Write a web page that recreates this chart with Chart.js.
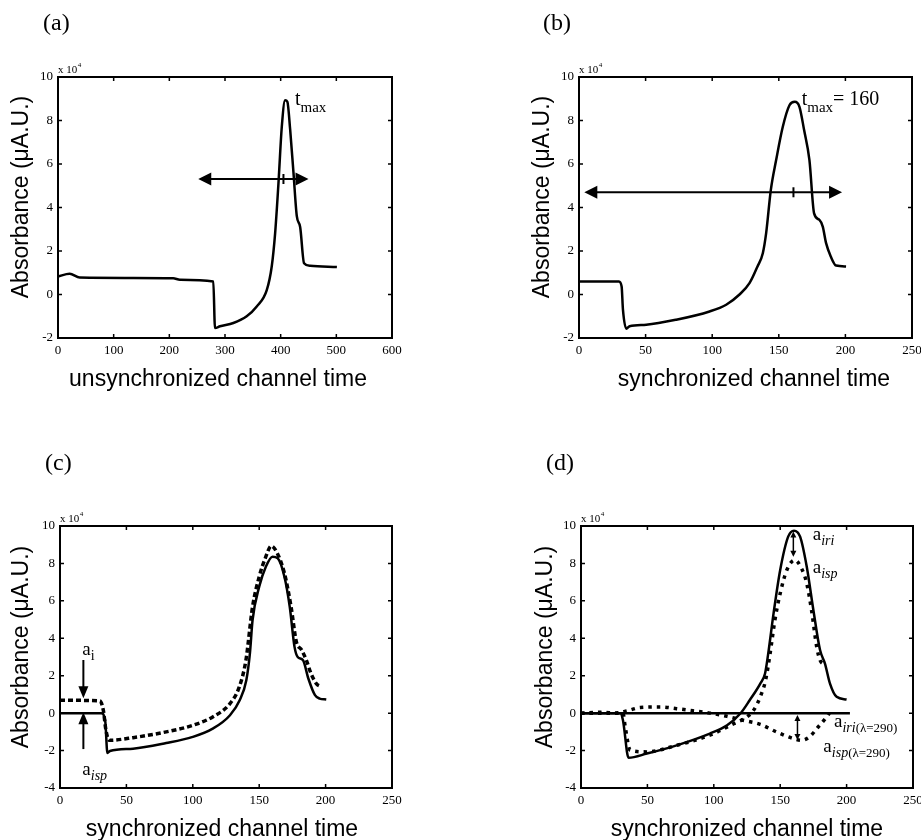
<!DOCTYPE html>
<html>
<head>
<meta charset="utf-8">
<script src="https://cdn.jsdelivr.net/npm/chart.js@4.4.1/dist/chart.umd.min.js"></script>
<style>
  body { margin: 0; background: #fff; overflow: hidden; }
  #wrap { position: relative; width: 921px; height: 840px; overflow: hidden; background: #fff; }
  #wrap canvas { position: absolute; }
</style>
</head>
<body>
<div id="wrap">
  <canvas id="chartA" width="480" height="440" style="left:0;top:0"></canvas>
  <canvas id="chartB" width="480" height="440" style="left:460px;top:0"></canvas>
  <canvas id="chartC" width="480" height="440" style="left:0;top:420px"></canvas>
  <canvas id="chartD" width="480" height="440" style="left:460px;top:420px"></canvas>
</div>
<script>
const SERIF = '"Liberation Serif", "Times New Roman", serif';
const SANS = '"Liberation Sans", Arial, sans-serif';

// --- (a) unsynchronized ---
const xTicksA = [0, 100, 200, 300, 400, 500, 600];
const yTicksA = [-2, 0, 2, 4, 6, 8, 10];
const timeA = [0, 21, 39, 207, 219, 279, 282, 291, 315, 339, 357, 375, 384, 390, 396, 402, 408, 412, 417, 423, 429, 435, 442, 453, 501];
const absA = [0.83, 0.95, 0.78, 0.75, 0.68, 0.6, -1.54, -1.46, -1.31, -1.0, -0.55, 0.2, 1.3, 2.8, 5.1, 7.7, 8.93, 8.86, 7.6, 5.6, 3.6, 3.1, 1.44, 1.32, 1.26];

// --- (b) synchronized ---
const xTicksSync = [0, 50, 100, 150, 200, 250];
const yTicksB = [-2, 0, 2, 4, 6, 8, 10];
const timeB = [0, 30, 32, 33, 35.5, 38, 50.5, 73, 98, 110.5, 120.5, 128, 134, 138, 140.5, 144, 148, 153, 158, 162, 165.5, 169, 173, 176.5, 180.5, 183, 185.5, 189, 193, 200.5];
const absB = [0.6, 0.6, 0.37, -0.7, -1.57, -1.46, -1.39, -1.16, -0.78, -0.47, 0.0, 0.52, 1.29, 1.9, 2.82, 4.8, 6.18, 7.71, 8.7, 8.86, 8.63, 7.56, 6.18, 3.73, 3.43, 3.12, 2.36, 1.75, 1.33, 1.29];

// --- (c) ---
const yTicksCD = [-4, -2, 0, 2, 4, 6, 8, 10];
const timeC = [0, 31, 34, 35.7, 37.6, 55, 80, 100, 115, 128, 135.3, 140.3, 143, 145, 150, 155, 160, 164, 169, 173, 176.6, 179, 183, 187, 192, 195.5, 200.5];
const solidC = [0, 0, -0.38, -2.13, -2.02, -1.9, -1.6, -1.27, -0.83, -0.11, 0.69, 1.76, 3.19, 4.97, 6.75, 7.82, 8.36, 8.27, 7.29, 5.68, 3.54, 3.0, 2.83, 1.85, 0.96, 0.78, 0.73];
const timeC2 = [0, 30, 32.6, 34.6, 37, 55, 80, 100, 115, 128, 135, 140, 145, 150, 155, 159, 163, 169, 174, 178, 182, 185.5, 189, 193, 197];
const dottedC = [0.69, 0.65, 0.16, -0.91, -1.45, -1.31, -1.0, -0.65, -0.2, 0.51, 1.4, 2.83, 5.68, 7.29, 8.36, 8.93, 8.63, 7.47, 5.68, 3.81, 3.37, 2.83, 2.12, 1.58, 1.4];

// --- (d) ---
const timeD = [0, 29.6, 31.6, 35.8, 49.6, 72, 97, 110, 120, 127, 135, 138.6, 141, 145, 150, 156, 160.4, 165, 170, 175, 180, 183.7, 187.5, 192.5, 200];
const iriD = [0, 0, -0.38, -2.38, -2.16, -1.72, -1.09, -0.65, -0.02, 0.69, 1.58, 2.12, 3.19, 5.33, 7.65, 9.43, 9.75, 9.43, 7.82, 5.5, 3.37, 2.65, 1.58, 0.87, 0.73];
const timeD2 = [0, 31.6, 33.3, 37, 49.6, 72, 97, 115, 125, 130, 135, 139, 142.4, 146, 150, 155, 161, 166, 170, 173.6, 177.5, 180, 183];
const ispD = [0, 0, -0.74, -1.98, -2.07, -1.72, -1.18, -0.56, -0.2, 0.16, 0.87, 1.76, 3.19, 4.97, 6.4, 7.65, 8.18, 7.74, 6.93, 5.5, 3.54, 2.83, 2.6];
const time290 = [0, 202.5];
const iri290 = [0, 0];
const time290b = [0, 17, 25, 34.6, 44.6, 60, 72, 85, 97, 110, 122, 135, 147, 160, 166, 172, 178.6, 185, 187];
const isp290 = [0, 0.05, 0, 0.12, 0.3, 0.33, 0.24, 0.12, 0, -0.17, -0.38, -0.6, -1.0, -1.36, -1.45, -1.27, -0.74, -0.2, 0];

// 주석 (데이터 단위)
const arrowsA = [{ x1: 252, y1: 5.31, x2: 450, y2: 5.31, both: true, mark: 405 }];
const arrowsB = [{ x1: 4, y1: 4.7, x2: 197.5, y2: 4.7, both: true, mark: 161 }];
const arrowsC = [
    { x1: 17.6, y1: 2.84, x2: 17.6, y2: 0.8 },
    { x1: 17.6, y1: -1.92, x2: 17.6, y2: 0.05 }
];
const arrowsD = [
    { x1: 159.9, y1: 9.7, x2: 159.9, y2: 8.36, both: true },
    { x1: 163, y1: -0.1, x2: 163, y2: -1.44, both: true }
];

const labelsA = [{ x: 425.7, y: 8.71, parts: [['t', 20], ['max', 15, 6.5]] }];
const labelsB = [{ x: 167.2, y: 8.71, parts: [['t', 20], ['max', 15, 6.5], ['= 160', 20]] }];
const labelsC = [
    { x: 16.8, y: 3.1, parts: [['a', 19], ['i', 14, 5]] },
    { x: 16.8, y: -3.31, parts: [['a', 19], ['isp', 14, 5, true]] }
];
const labelsD = [
    { x: 174.5, y: 9.25, parts: [['a', 19], ['iri', 14, 5, true]] },
    { x: 174.5, y: 7.49, parts: [['a', 19], ['isp', 14, 5, true]] },
    { x: 190.5, y: -0.76, parts: [['a', 19], ['iri', 14, 5, true], ['(λ=290)', 13, 5]] },
    { x: 182.5, y: -2.06, parts: [['a', 19], ['isp', 14, 5, true], ['(λ=290)', 13, 5]] }
];

function drawRich(ctx, x, y, parts) {
    let cx = x;
    parts.forEach(([text, size, dy, italic]) => {
        ctx.font = (italic ? 'italic ' : '') + size + 'px ' + SERIF;
        ctx.fillText(text, cx, y + (dy || 0));
        cx += ctx.measureText(text).width;
    });
}

function drawArrow(ctx, x1, y1, x2, y2, both, st) {
    const a = Math.atan2(y2 - y1, x2 - x1);
    const head = (tx, ty, ang) => {
        ctx.beginPath();
        ctx.moveTo(tx, ty);
        ctx.lineTo(tx - st.len * Math.cos(ang) + st.half * Math.sin(ang), ty - st.len * Math.sin(ang) - st.half * Math.cos(ang));
        ctx.lineTo(tx - st.len * Math.cos(ang) - st.half * Math.sin(ang), ty - st.len * Math.sin(ang) + st.half * Math.cos(ang));
        ctx.closePath();
        ctx.fill();
    };
    const cut = st.len * 0.6;
    ctx.lineWidth = st.lw;
    ctx.beginPath();
    ctx.moveTo(x1 + (both ? cut * Math.cos(a) : 0), y1 + (both ? cut * Math.sin(a) : 0));
    ctx.lineTo(x2 - cut * Math.cos(a), y2 - cut * Math.sin(a));
    ctx.stroke();
    head(x2, y2, a);
    if (both) head(x1, y1, a + Math.PI);
}

const decoFor = (p) => ({
    id: 'deco',
    afterDraw(chart) {
        const { ctx, chartArea: a, scales: { x, y } } = chart;
        ctx.save();
        ctx.fillStyle = '#000';
        ctx.strokeStyle = '#000';

        // 테두리 + 안쪽 눈금
        ctx.lineWidth = 2;
        ctx.strokeRect(a.left, a.top, a.right - a.left, a.bottom - a.top);
        ctx.lineWidth = 1.5;
        ctx.beginPath();
        x.ticks.forEach(t => {
            const px = x.getPixelForValue(t.value);
            ctx.moveTo(px, a.bottom); ctx.lineTo(px, a.bottom - 4);
            ctx.moveTo(px, a.top); ctx.lineTo(px, a.top + 4);
        });
        y.ticks.forEach(t => {
            const py = y.getPixelForValue(t.value);
            ctx.moveTo(a.left, py); ctx.lineTo(a.left + 4, py);
            ctx.moveTo(a.right, py); ctx.lineTo(a.right - 4, py);
        });
        ctx.stroke();

        // x 10^4
        ctx.textAlign = 'left';
        ctx.textBaseline = 'alphabetic';
        ctx.font = '11px ' + SERIF;
        ctx.fillText('x 10', a.left, a.top - 4);
        const w = ctx.measureText('x 10').width;
        ctx.font = '7px ' + SERIF;
        ctx.fillText('4', a.left + w + 0.5, a.top - 10);

        // 패널 글자
        ctx.font = '24px ' + SERIF;
        ctx.fillText(p.letter, p.letterX, p.letterY);

        // 축 제목
        ctx.font = '23px ' + SANS;
        ctx.textAlign = 'center';
        ctx.textBaseline = 'middle';
        ctx.fillText(p.xTitle, p.xTitleX, p.xTitleY);
        ctx.save();
        ctx.translate(p.yTitleX, p.yTitleY);
        ctx.rotate(-Math.PI / 2);
        ctx.fillText('Absorbance (μA.U.)', 0, 0);
        ctx.restore();

        // 화살표
        p.arrows.forEach(ar => {
            const x1 = x.getPixelForValue(ar.x1), y1 = y.getPixelForValue(ar.y1);
            const x2 = x.getPixelForValue(ar.x2), y2 = y.getPixelForValue(ar.y2);
            drawArrow(ctx, x1, y1, x2, y2, ar.both, p.arrowStyle);
            if (ar.mark !== undefined) {
                const mx = x.getPixelForValue(ar.mark);
                ctx.lineWidth = 2;
                ctx.beginPath();
                ctx.moveTo(mx, y1 - 5); ctx.lineTo(mx, y1 + 5);
                ctx.stroke();
            }
        });

        // 텍스트 주석
        ctx.textAlign = 'left';
        ctx.textBaseline = 'alphabetic';
        p.labels.forEach(l => drawRich(ctx, x.getPixelForValue(l.x), y.getPixelForValue(l.y), l.parts));
        ctx.restore();
    }
});

function makePanel(id, p) {
    const W = 480, H = 440;
    const datasets = p.series.map(s => ({
        data: s.x.map((v, i) => ({ x: v, y: s.y[i] })),
        showLine: true,
        borderColor: '#000',
        borderWidth: s.dash ? 3.5 : 2.5,
        borderDash: s.dash || [],
        borderCapStyle: 'butt',
        pointRadius: 0,
        cubicInterpolationMode: 'monotone',
        fill: false
    }));
    const tickFont = { family: SERIF, size: 13 };
    new Chart(document.getElementById(id), {
        type: 'scatter',
        data: { datasets },
        options: {
            responsive: false,
            animation: false,
            events: [],
            layout: { padding: { left: p.area.l - 40, top: p.area.t, right: W - p.area.r, bottom: H - p.area.b - 30 } },
            scales: {
                x: {
                    type: 'linear',
                    min: p.xTicks[0],
                    max: p.xTicks[p.xTicks.length - 1],
                    afterBuildTicks: s => { s.ticks = p.xTicks.map(v => ({ value: v })); },
                    afterFit: s => { s.height = 30; },
                    grid: { display: false, drawTicks: false },
                    border: { display: false },
                    ticks: { font: tickFont, color: '#000', padding: 5, maxRotation: 0, autoSkip: false }
                },
                y: {
                    type: 'linear',
                    min: p.yTicks[0],
                    max: p.yTicks[p.yTicks.length - 1],
                    afterBuildTicks: s => { s.ticks = p.yTicks.map(v => ({ value: v })); },
                    afterFit: s => { s.width = 40; },
                    grid: { display: false, drawTicks: false },
                    border: { display: false },
                    ticks: { font: tickFont, color: '#000', padding: 5, autoSkip: false }
                }
            },
            plugins: { legend: { display: false }, tooltip: { enabled: false } }
        },
        plugins: [decoFor(p)]
    });
}

const bigHead = { len: 13, half: 6.5, lw: 2 };

makePanel('chartA', {
    xTicks: xTicksA, yTicks: yTicksA,
    series: [{ x: timeA, y: absA }],
    area: { l: 58, t: 77, r: 392, b: 338 },
    letter: '(a)', letterX: 43, letterY: 30,
    xTitle: 'unsynchronized channel time', xTitleX: 218, xTitleY: 380,
    yTitleX: 22, yTitleY: 197,
    arrows: arrowsA, arrowStyle: bigHead, labels: labelsA
});

makePanel('chartB', {
    xTicks: xTicksSync, yTicks: yTicksB,
    series: [{ x: timeB, y: absB }],
    area: { l: 119, t: 77, r: 452, b: 338 },
    letter: '(b)', letterX: 83, letterY: 30,
    xTitle: 'synchronized channel time', xTitleX: 294, xTitleY: 380,
    yTitleX: 83, yTitleY: 197,
    arrows: arrowsB, arrowStyle: bigHead, labels: labelsB
});

makePanel('chartC', {
    xTicks: xTicksSync, yTicks: yTicksCD,
    series: [{ x: timeC, y: solidC }, { x: timeC2, y: dottedC, dash: [5, 3] }],
    area: { l: 60, t: 106, r: 392, b: 368 },
    letter: '(c)', letterX: 45, letterY: 50,
    xTitle: 'synchronized channel time', xTitleX: 222, xTitleY: 410,
    yTitleX: 22, yTitleY: 227,
    arrows: arrowsC, arrowStyle: { len: 12, half: 5, lw: 2 }, labels: labelsC
});

makePanel('chartD', {
    xTicks: xTicksSync, yTicks: yTicksCD,
    series: [
        { x: timeD, y: iriD },
        { x: timeD2, y: ispD, dash: [3.5, 5] },
        { x: time290, y: iri290 },
        { x: time290b, y: isp290, dash: [3.5, 5] }
    ],
    area: { l: 121, t: 106, r: 453, b: 368 },
    letter: '(d)', letterX: 86, letterY: 50,
    xTitle: 'synchronized channel time', xTitleX: 287, xTitleY: 410,
    yTitleX: 86, yTitleY: 227,
    arrows: arrowsD, arrowStyle: { len: 6, half: 3, lw: 1.5 }, labels: labelsD
});
</script>
</body>
</html>
